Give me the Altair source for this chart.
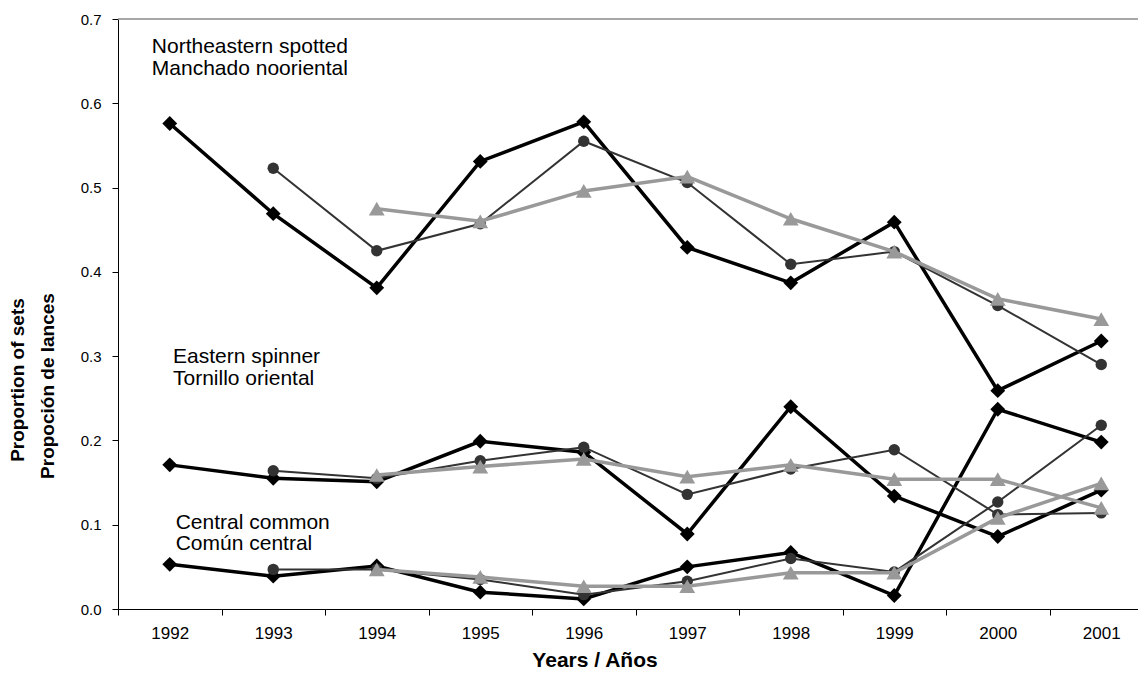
import altair as alt
import pandas as pd

years = [1992, 1993, 1994, 1995, 1996, 1997, 1998, 1999, 2000, 2001]

# Northeastern spotted / Manchado nooriental
ne_diamond = [0.576, 0.469, 0.381, 0.531, 0.578, 0.429, 0.387, 0.459, 0.259, 0.318]
ne_circle = [None, 0.523, 0.425, 0.457, 0.555, 0.506, 0.409, 0.424, 0.360, 0.290]
ne_triangle = [None, None, 0.475, 0.460, 0.496, 0.513, 0.463, 0.424, 0.368, 0.344]

# Eastern spinner / Tornillo oriental
es_diamond = [0.171, 0.155, 0.151, 0.199, 0.186, 0.089, 0.240, 0.134, 0.086, 0.141]
es_circle = [None, 0.164, 0.155, 0.176, 0.192, 0.136, 0.166, 0.189, 0.112, 0.114]
es_triangle = [None, None, 0.159, 0.169, 0.178, 0.157, 0.171, 0.154, 0.154, 0.120]

# Central common / Común central
cc_diamond = [0.053, 0.039, 0.051, 0.020, 0.012, 0.050, 0.067, 0.016, 0.237, 0.198]
cc_circle = [None, 0.047, 0.047, 0.035, 0.017, 0.033, 0.060, 0.044, 0.127, 0.218]
cc_triangle = [None, None, 0.047, 0.038, 0.027, 0.027, 0.043, 0.043, 0.108, 0.149]

y_ticks = [0.0, 0.1, 0.2, 0.3, 0.4, 0.5, 0.6, 0.7]

series_data = {
    "diamond": {"NE": ne_diamond, "ES": es_diamond, "CC": cc_diamond},
    "circle": {"NE": ne_circle, "ES": es_circle, "CC": cc_circle},
    "triangle": {"NE": ne_triangle, "ES": es_triangle, "CC": cc_triangle},
}

rows = []
for s, groups in series_data.items():
    for g, vals in groups.items():
        for yr, v in zip(years, vals):
            if v is not None:
                rows.append({"series": s, "group": g, "year": yr, "value": v})
df = pd.DataFrame(rows)

FONT = "Liberation Sans"
W, H = 1020, 590

x_scale = alt.Scale(domain=[1991.5, 2001.355], nice=False, zero=False)
y_scale = alt.Scale(domain=[0, 0.7], nice=False, zero=True)

x_vals = [1991.5] + [v for yr in years[:-1] for v in (yr, yr + 0.5)] + [years[-1]]

x_axis = alt.Axis(
    values=x_vals,
    title=None,
    grid=False,
    labelExpr="datum.value % 1 === 0 ? format(datum.value, 'd') : ''",
    labelOverlap=False,
    labelFlush=False,
    labelFont=FONT,
    labelFontSize=17,
    labelColor="black",
    labelPadding=10,
    tickSize=6,
    tickColor={"condition": {"test": "datum.value % 1 !== 0", "value": "black"},
               "value": "transparent"},
    domainColor="black",
    domainWidth=1,
)
y_axis = alt.Axis(
    values=y_ticks,
    format=".1f",
    title=None,
    grid=False,
    labelFont=FONT,
    labelFontSize=15,
    labelColor="black",
    labelPadding=11,
    tickSize=6,
    tickColor="black",
    domainColor="black",
    domainWidth=1,
)

styles = [
    ("diamond", "#000000", 3.5, 220, "diamond"),
    ("circle", "#333333", 2.0, 130, "circle"),
    ("triangle", "#999999", 3.5, 250, "triangle-up"),
]

xe = alt.X("year:Q", scale=x_scale, axis=x_axis)
ye = alt.Y("value:Q", scale=y_scale, axis=y_axis)

layers = []
for name, color, width, size, shape in styles:
    sub = df[df["series"] == name]
    line = alt.Chart(sub).mark_line(color=color, strokeWidth=width).encode(
        x=xe, y=ye, detail="group:N"
    )
    pts = alt.Chart(sub).mark_point(
        shape=shape, filled=True, size=size, color=color, opacity=1
    ).encode(x=xe, y=ye)
    layers += [line, pts]

one = alt.Data(values=[{}])

# top border line of the plot frame
layers.insert(0, alt.Chart(one).mark_rule(color="#8a8a8a", strokeWidth=1.5).encode(
    x=alt.value(0), x2=alt.value(W), y=alt.value(0)
))


def text_mark(text, px, py, size=21, bold=False, align="left",
              baseline="alphabetic", angle=0):
    kw = dict(text=text, align=align, baseline=baseline, font=FONT,
              fontSize=size, color="black")
    if bold:
        kw["fontWeight"] = "bold"
    if angle:
        kw["angle"] = angle
    return alt.Chart(one).mark_text(**kw).encode(x=alt.value(px), y=alt.value(py))


layers += [
    text_mark("Northeastern spotted", 33.8, 34.3),
    text_mark("Manchado nooriental", 33.8, 56),
    text_mark("Eastern spinner", 55, 344.3),
    text_mark("Tornillo oriental", 55, 366),
    text_mark("Central common", 57.7, 510),
    text_mark("Común central", 57.7, 531),
    text_mark("Proportion of sets", -100.5, 361, size=19, bold=True,
              align="center", baseline="middle", angle=270),
    text_mark("Propoción de lances", -69.7, 367, size=19, bold=True,
              align="center", baseline="middle", angle=270),
    text_mark("Years / Años", 477, 648, size=21, bold=True, align="center"),
]

chart = alt.layer(*layers).properties(
    width=W,
    height=H,
    autosize=alt.AutoSizeParams(type="none"),
    padding={"left": 110, "top": 11, "right": 0, "bottom": 63},
    background="white",
).configure_view(stroke=None)

chart.save("out.html", embed_options={"renderer": "svg", "actions": False})
